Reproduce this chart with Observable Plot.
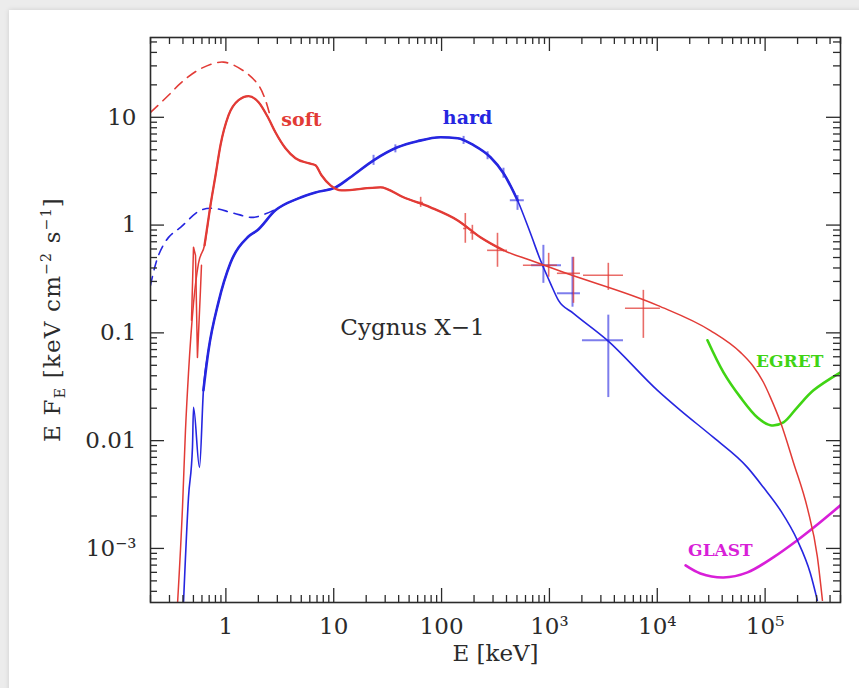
<!DOCTYPE html>
<html><head><meta charset="utf-8">
<script src="https://cdn.jsdelivr.net/npm/d3@7"></script>
<script src="https://cdn.jsdelivr.net/npm/@observablehq/plot@0.6"></script>
<style>
html,body{margin:0;padding:0;width:859px;height:688px;overflow:hidden;background:#ececec;}
#card{position:absolute;left:9px;top:10px;width:870px;height:700px;background:#fff;box-shadow:0 0 5px rgba(0,0,0,0.13);}
#chart{position:absolute;left:0;top:0;}
</style></head>
<body><div id="card"></div><div id="chart"></div>
<script>
// ---- soft state (red) ----
const softE = [0.357,0.396,0.422,0.450,0.501,0.557,0.634,0.720,0.802,0.891,1.057,1.31,1.62,2.01,2.48,2.88,3.57,4.42,5.83,6.77,7.70,9.33,11.8,27.1,44.3,78.9,140,229,375,667,1349,10050,31100,59100,76300,96400,1.12e5,1.39e5,1.83e5,2.47e5,3.05e5,3.40e5];
const softF = [3.2e-4,2.40e-3,0.01245,0.0421,0.188,0.442,0.650,1.53,2.90,5.50,10.4,14.4,15.7,13.8,9.8,7.26,5.16,4.17,3.75,3.59,2.90,2.34,2.10,2.24,1.81,1.46,1.11,0.771,0.583,0.471,0.365,0.180,0.105,0.0659,0.050,0.0348,0.0252,0.0148,6.28e-3,2.35e-3,8.4e-4,3.3e-4];
const softEdgeE = [0.480,0.501,0.523,0.545,0.581,0.594];
const softEdgeF = [0.131,0.622,0.524,0.0592,0.248,0.424];
const softUnabsE = [0.2,0.294,0.388,0.594,0.950,1.52,2.01,2.33,2.55];
const softUnabsF = [11.1,16.0,21.1,28.5,32.5,26.2,19.8,14.4,10.6];
// soft data error bars
const softErrE   = [64,166,193,330,984,1671,3516,7430];
const softErrELo = [60,160,186,267,574,1186,2070,5070];
const softErrEHi = [68,172,200,409,1186,1940,4860,10700];
const softErrF   = [1.62,0.93,0.85,0.583,0.424,0.357,0.342,0.169];
const softErrFLo = [1.46,0.678,0.723,0.406,0.328,0.188,0.248,0.0889];
const softErrFHi = [1.81,1.28,0.995,0.839,0.547,0.502,0.442,0.248];

// ---- hard state (blue) ----
const hardE = [0.405,0.450,0.490,0.501,0.569,0.619,0.690,0.853,1.10,1.59,1.96,2.88,4.71,6.77,10.4,14.3,23.4,39.0,59.8,97.8,141,198,284,375,506,667,826,1022,1213,1670,3450,10050,16400,33200,68500,96400,1.39e5,1.99e5,2.63e5,3.05e5];
const hardF = [3.2e-4,2.97e-3,8.66e-3,0.0204,5.65e-3,0.0293,0.0689,0.192,0.442,0.771,0.895,1.37,1.77,2.01,2.24,2.78,3.99,5.27,6.00,6.53,6.40,5.51,4.26,3.03,1.70,0.839,0.471,0.288,0.200,0.152,0.0853,0.0293,0.0191,0.0107,5.65e-3,3.69e-3,2.25e-3,1.19e-3,5.86e-4,3.3e-4];
const hardUnabsE = [0.2,0.237,0.294,0.380,0.581,0.768,1.18,1.80,2.76];
const hardUnabsF = [0.276,0.524,0.769,0.954,1.37,1.43,1.29,1.18,1.37];
const hardErrE   = [23.4,37.3,160,267,375,506,879,1637,3516];
const hardErrELo = [23.4,37.3,160,267,375,434,683,1186,2025];
const hardErrEHi = [23.4,37.3,160,267,375,585,1294,1940,4860];
const hardErrF   = [3.99,5.1,6.1,4.4,3.03,1.70,0.424,0.233,0.0853];
const hardErrFLo = [3.58,4.68,5.6,4.04,2.72,1.37,0.288,0.173,0.0251];
const hardErrFHi = [4.44,5.55,6.65,4.79,3.37,1.88,0.649,0.502,0.146];

// ---- instrument sensitivities ----
const egretE = [29200,41100,59100,84900,1.12e5,1.48e5,1.99e5,2.81e5,5.0e5];
const egretF = [0.0853,0.0430,0.0252,0.0164,0.0139,0.0148,0.0204,0.0293,0.0430];
const glastE = [18300,25100,41100,68700,1.19e5,1.99e5,2.84e5,5.0e5];
const glastF = [6.95e-4,5.86e-4,5.38e-4,6.0e-4,8.26e-4,1.19e-3,1.57e-3,2.51e-3];

// ---- labels ----
const labelText = ["soft","hard","Cygnus X\u22121","EGRET","GLAST"];
const labelE = [5.02,174,53.8,1.69e5,38500];
const labelF = [9.4,9.8,0.112,0.0543,9.55e-4];

// ---- axes ----
const xMajor = [1,10,100,1e3,1e4,1e5];
const xTickLabels = ["1","10","100","10\u00b3","10\u2074","10\u2075"];
const yMajor = [1e-3,0.01,0.1,1,10];
const yTickLabels = ["10\u207b\u00b3","0.01","0.1","1","10"];
const xDomain = [0.2,5e5];
const yDomain = [3.15e-4,55];
// energy range covered by measured data (drawn thicker)
const dataRange = [0.6, 620];

const RED = "#e23b36", BLUE = "#2626e0", GREEN = "#40d414", MAG = "#d81fd8", INK = "#2b2b2b";

function minors(lo, hi) {
  const out = [];
  for (let k = -5; k <= 6; k++) for (let m = 2; m <= 9; m++) {
    const v = m * Math.pow(10, k);
    if (v >= lo * 0.999 && v <= hi * 1.001) out.push(v);
  }
  return out;
}
const xMinor = minors(xDomain[0], xDomain[1]);
const yMinor = minors(yDomain[0], yDomain[1]);

const rows = (E, F) => E.map((e, i) => ({E: e, F: F[i]}));
const errRows = (E, Elo, Ehi, F, Flo, Fhi) => E.map((e, i) => ({E: e, Elo: Elo[i], Ehi: Ehi[i], F: F[i], Flo: Flo[i], Fhi: Fhi[i]}));
const softErr = errRows(softErrE, softErrELo, softErrEHi, softErrF, softErrFLo, softErrFHi);
const hardErr = errRows(hardErrE, hardErrELo, hardErrEHi, hardErrF, hardErrFLo, hardErrFHi);
const labels = labelText.map((t, i) => ({t, E: labelE[i], F: labelF[i]}));
const softRows = rows(softE, softF), hardRows = rows(hardE, hardF);
const inData = d => d.E >= dataRange[0] && d.E <= dataRange[1];

const W = 859, H = 688, mL = 150, mR = 19, mT = 37, mB = 86;
const iw = W - mL - mR, ih = H - mT - mB;
const MAJ = 14, MIN = 7;

const tickRules = [];
for (const [vals, len] of [[xMajor, MAJ], [xMinor, MIN]]) {
  tickRules.push(Plot.ruleX(vals, {insetTop: ih - len, stroke: INK, strokeWidth: 1.3}));
  tickRules.push(Plot.ruleX(vals, {insetBottom: ih - len, stroke: INK, strokeWidth: 1.3}));
}
for (const [vals, len] of [[yMajor, MAJ], [yMinor, MIN]]) {
  tickRules.push(Plot.ruleY(vals, {insetRight: iw - len, stroke: INK, strokeWidth: 1.3}));
  tickRules.push(Plot.ruleY(vals, {insetLeft: iw - len, stroke: INK, strokeWidth: 1.3}));
}

const plot = Plot.plot({
  width: W, height: H,
  marginLeft: mL, marginRight: mR, marginTop: mT, marginBottom: mB,
  style: {fontFamily: "DejaVu Serif", fontSize: "23px", background: "transparent", color: INK},
  x: {type: "log", domain: xDomain},
  y: {type: "log", domain: yDomain},
  marks: [
    // instrument curves
    Plot.line(rows(egretE, egretF), {x: "E", y: "F", stroke: GREEN, strokeWidth: 2.6, curve: "catmull-rom", clip: true}),
    Plot.line(rows(glastE, glastF), {x: "E", y: "F", stroke: MAG, strokeWidth: 2.6, curve: "catmull-rom", clip: true}),
    // unabsorbed (dashed)
    Plot.line(rows(softUnabsE, softUnabsF), {x: "E", y: "F", stroke: RED, strokeWidth: 1.6, strokeDasharray: "10,7", curve: "catmull-rom", clip: true}),
    Plot.line(rows(hardUnabsE, hardUnabsF), {x: "E", y: "F", stroke: BLUE, strokeWidth: 1.6, strokeDasharray: "9,7", curve: "catmull-rom", clip: true}),
    // hard state
    Plot.ruleX(hardErr, {x: "E", y1: "Flo", y2: "Fhi", stroke: BLUE, strokeOpacity: 0.6, strokeWidth: 2}),
    Plot.ruleY(hardErr, {y: "F", x1: "Elo", x2: "Ehi", stroke: BLUE, strokeOpacity: 0.6, strokeWidth: 2}),
    Plot.line(hardRows, {x: "E", y: "F", stroke: BLUE, strokeWidth: 1.6, curve: "monotone-x", clip: true}),
    Plot.line(hardRows.filter(inData), {x: "E", y: "F", stroke: BLUE, strokeWidth: 2.6, strokeLinecap: "round", curve: "monotone-x", clip: true}),
    // soft state
    Plot.ruleX(softErr, {x: "E", y1: "Flo", y2: "Fhi", stroke: RED, strokeOpacity: 0.75, strokeWidth: 1.6}),
    Plot.ruleY(softErr, {y: "F", x1: "Elo", x2: "Ehi", stroke: RED, strokeOpacity: 0.75, strokeWidth: 1.6}),
    Plot.line(rows(softEdgeE, softEdgeF), {x: "E", y: "F", stroke: RED, strokeWidth: 1.5, clip: true}),
    Plot.line(softRows, {x: "E", y: "F", stroke: RED, strokeWidth: 1.5, curve: "monotone-x", clip: true}),
    Plot.line(softRows.filter(inData), {x: "E", y: "F", stroke: RED, strokeWidth: 2.3, strokeLinecap: "round", curve: "monotone-x", clip: true}),
    // labels
    Plot.text(labels.slice(0, 1), {x: "E", y: "F", text: "t", fill: RED, fontWeight: "bold", fontSize: 19}),
    Plot.text(labels.slice(1, 2), {x: "E", y: "F", text: "t", fill: BLUE, fontWeight: "bold", fontSize: 19}),
    Plot.text(labels.slice(2, 3), {x: "E", y: "F", text: "t", fill: INK, fontSize: 23, letterSpacing: "1.3px"}),
    Plot.text(labels.slice(3, 4), {x: "E", y: "F", text: "t", fill: GREEN, fontWeight: "bold", fontSize: 17}),
    Plot.text(labels.slice(4, 5), {x: "E", y: "F", text: "t", fill: MAG, fontWeight: "bold", fontSize: 17}),
    // ticks and frame
    ...tickRules,
    Plot.frame({stroke: INK, strokeWidth: 1.6}),
    Plot.axisX(xMajor, {anchor: "bottom", tickSize: 0, tickPadding: 15, label: null, tickFormat: d => xTickLabels[xMajor.indexOf(d)]}),
    Plot.axisY(yMajor, {anchor: "left", tickSize: 0, tickPadding: 14, label: null, tickFormat: d => yTickLabels[yMajor.indexOf(d)]}),
    Plot.text(["E [keV]"], {frameAnchor: "bottom", dy: 58, fill: INK, fontSize: 23, letterSpacing: "1px"})
  ]
});

const svg = d3.select(plot);
const t = svg.append("text")
  .attr("transform", `translate(60,${mT + ih / 2}) rotate(-90)`)
  .attr("text-anchor", "middle")
  .attr("fill", INK)
  .style("font-family", "DejaVu Serif")
  .style("font-size", "23px")
  .style("letter-spacing", "1.2px");
t.append("tspan").text("E F");
t.append("tspan").attr("dy", 5).style("font-size", "14px").text("E");
t.append("tspan").attr("dy", -5).text(" [keV cm");
t.append("tspan").attr("dy", -9).style("font-size", "14px").text("\u22122");
t.append("tspan").attr("dy", 9).text(" s");
t.append("tspan").attr("dy", -9).style("font-size", "14px").text("\u22121");
t.append("tspan").attr("dy", 9).text("]");

document.getElementById("chart").appendChild(plot);
</script>
</body></html>
